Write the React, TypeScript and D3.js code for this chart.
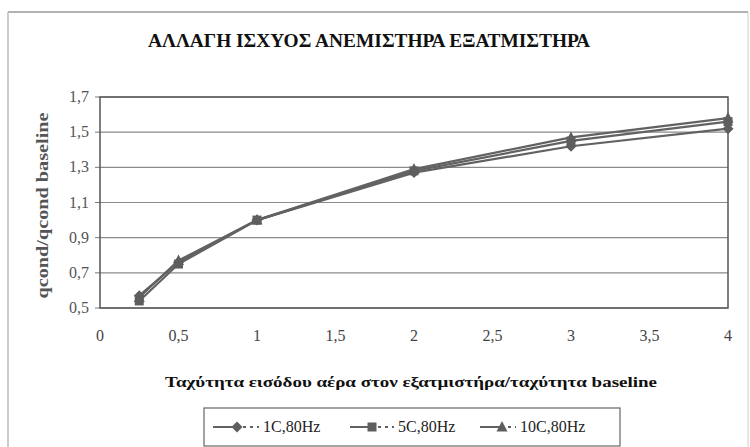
import React from "react";
import * as d3 from "d3";

const xValues = [0.25, 0.5, 1, 2, 3, 4];
const series1C = [0.57, 0.76, 1.0, 1.27, 1.42, 1.52];
const series5C = [0.54, 0.75, 1.0, 1.28, 1.45, 1.56];
const series10C = [0.56, 0.77, 1.0, 1.29, 1.47, 1.58];
const seriesNames = ["1C,80Hz", "5C,80Hz", "10C,80Hz"];
const xTicks = [0, 0.5, 1, 1.5, 2, 2.5, 3, 3.5, 4];
const yTicks = [0.5, 0.7, 0.9, 1.1, 1.3, 1.5, 1.7];
const title = "ΑΛΛΑΓΗ ΙΣΧΥΟΣ ΑΝΕΜΙΣΤΗΡΑ ΕΞΑΤΜΙΣΤΗΡΑ";
const xTitle = "Ταχύτητα εισόδου αέρα στον εξατμιστήρα/ταχύτητα baseline";
const yTitle = "qcond/qcond baseline";

const fmt = (v: number) => String(v).replace(".", ",");

function Marker({ kind, x, y }: { kind: number; x: number; y: number }) {
  const c = "#5e5e5e";
  if (kind === 0) {
    return <path d={`M${x},${y - 5.5}L${x + 5.5},${y}L${x},${y + 5.5}L${x - 5.5},${y}Z`} fill={c} />;
  }
  if (kind === 1) {
    return <rect x={x - 4.5} y={y - 4.5} width={9} height={9} fill={c} />;
  }
  return <path d={`M${x},${y - 6}L${x + 5.5},${y + 4.5}L${x - 5.5},${y + 4.5}Z`} fill={c} />;
}

export default function App() {
  const W = 750, H = 447;
  const left = 100, right = 728, top = 97, bottom = 308;
  const x = d3.scaleLinear().domain([0, 4]).range([left, right]);
  const y = d3.scaleLinear().domain([0.5, 1.7]).range([bottom, top]);
  const all = [series1C, series5C, series10C];
  const line = d3
    .line<number>()
    .x((_, i) => x(xValues[i]))
    .y((d) => y(d));
  const font = "'Liberation Serif', 'Times New Roman', 'DejaVu Serif', serif";
  const legendItems = [
    { lx: 213, mx: 237, tx: 263 },
    { lx: 350, mx: 372, tx: 398 },
    { lx: 480, mx: 502, tx: 520 },
  ];
  return (
    <svg
      width={W}
      height={H}
      style={{ position: "absolute", left: 0, top: 0, background: "#fff", fontFamily: font }}
    >
      <rect x={0} y={0} width={W} height={H} fill="#fff" />
      <line x1={8} x2={748} y1={12} y2={12} stroke="#999" strokeWidth={1.5} />
      <line x1={8} x2={8} y1={12} y2={H} stroke="#bbb" strokeWidth={1.5} />
      <line x1={748} x2={748} y1={12} y2={H} stroke="#ccc" strokeWidth={1} />
      <text
        x={369}
        y={47}
        textAnchor="middle"
        fontWeight="bold"
        fontSize={18}
        textLength={442}
        lengthAdjust="spacingAndGlyphs"
        fill="#111"
        style={{ fontFamily: font }}
      >
        {title}
      </text>
      {yTicks.map((t) => (
        <g key={t}>
          <line x1={left} x2={right} y1={y(t)} y2={y(t)} stroke="#8a8a8a" strokeWidth={1.2} />
          <line x1={left - 5} x2={left} y1={y(t)} y2={y(t)} stroke="#777" />
          <text x={left - 11} y={y(t) + 5} textAnchor="end" fontSize={16} fill="#555" style={{ fontFamily: font }}>
            {fmt(t)}
          </text>
        </g>
      ))}
      <rect x={left} y={top} width={right - left} height={bottom - top} fill="none" stroke="#555" strokeWidth={1.5} />
      {xTicks.map((t) => (
        <text key={t} x={x(t)} y={341} textAnchor="middle" fontSize={16} fill="#444" style={{ fontFamily: font }}>
          {fmt(t)}
        </text>
      ))}
      <text
        transform={`translate(48,${(top + bottom) / 2 + 3}) rotate(-90)`}
        textAnchor="middle"
        fontWeight="bold"
        fontSize={16}
        fill="#555"
        textLength={186}
        lengthAdjust="spacingAndGlyphs"
        style={{ fontFamily: font }}
      >
        {yTitle}
      </text>
      <text
        x={411}
        y={387}
        textAnchor="middle"
        fontWeight="bold"
        fontSize={15}
        fill="#111"
        textLength={492}
        lengthAdjust="spacingAndGlyphs"
        style={{ fontFamily: font }}
      >
        {xTitle}
      </text>
      {all.map((s, k) => (
        <g key={k}>
          <path d={line(s) || ""} fill="none" stroke="#626262" strokeWidth={2.2} />
          {s.map((v, i) => (
            <Marker key={i} kind={k} x={x(xValues[i])} y={y(v)} />
          ))}
        </g>
      ))}
      <rect x={204} y={408} width={416} height={38} fill="#fff" stroke="#666" strokeWidth={1.2} />
      {seriesNames.map((n, k) => {
        const it = legendItems[k];
        return (
          <g key={n}>
            <line x1={it.lx} x2={it.mx} y1={427} y2={427} stroke="#626262" strokeWidth={2} />
            <line
              x1={it.mx + 6}
              x2={it.tx - 4}
              y1={427}
              y2={427}
              stroke="#626262"
              strokeWidth={2}
              strokeDasharray="3,4"
            />
            <Marker kind={k} x={it.mx} y={427} />
            <text x={it.tx} y={432} fontSize={16} fill="#222" style={{ fontFamily: font }}>
              {n}
            </text>
          </g>
        );
      })}
    </svg>
  );
}
